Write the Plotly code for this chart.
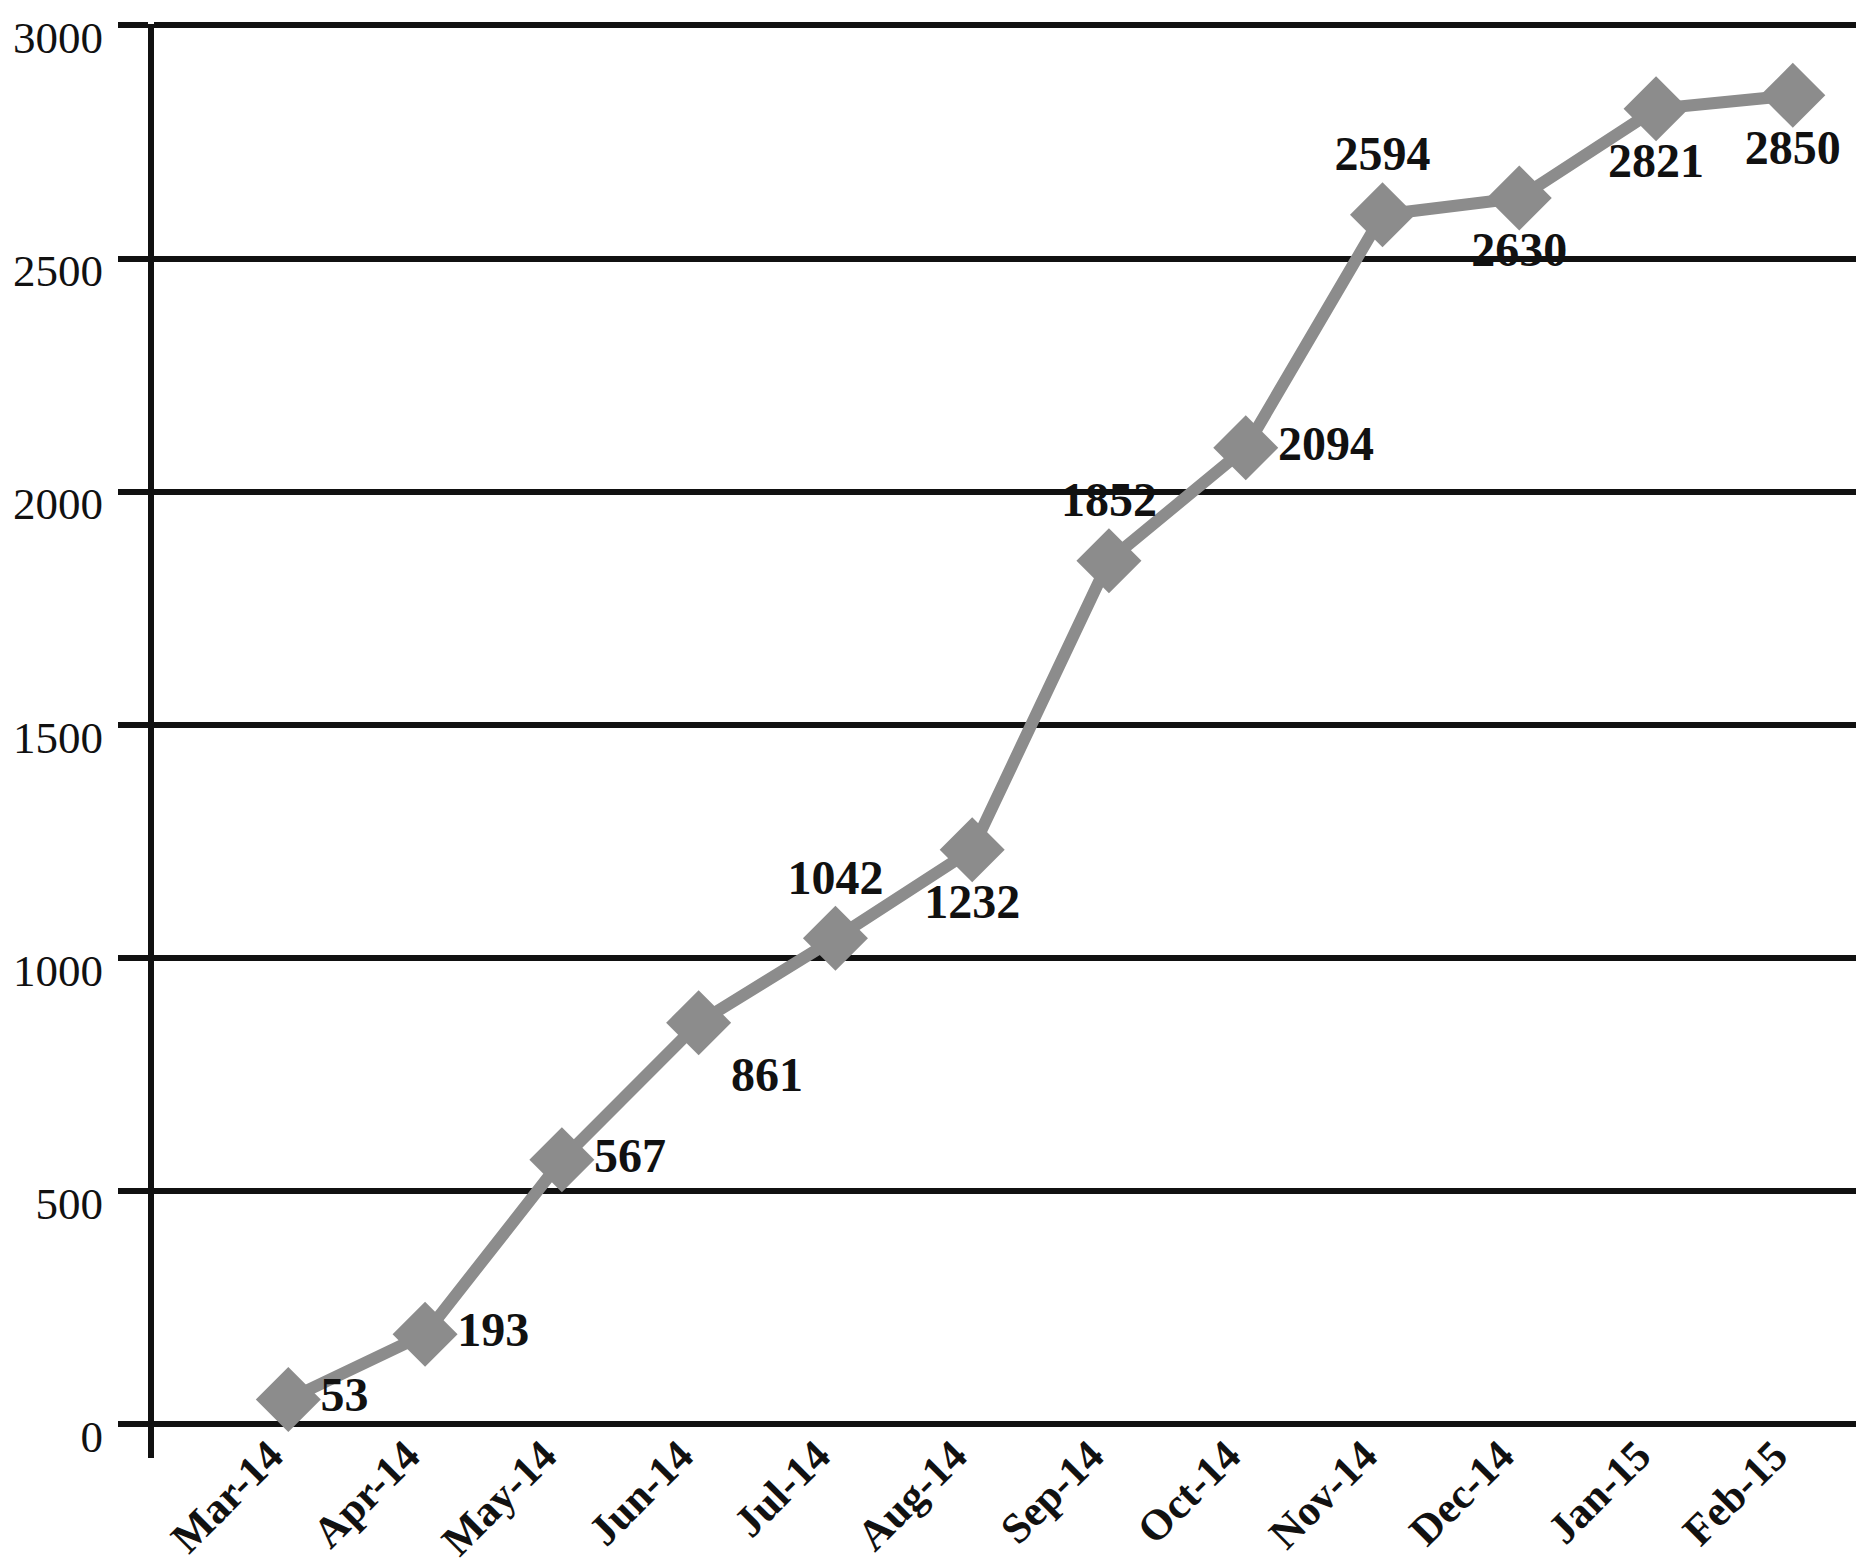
import plotly.graph_objects as go

months = ["Mar-14", "Apr-14", "May-14", "Jun-14", "Jul-14", "Aug-14",
          "Sep-14", "Oct-14", "Nov-14", "Dec-14", "Jan-15", "Feb-15"]
values = [53, 193, 567, 861, 1042, 1232, 1852, 2094, 2594, 2630, 2821, 2850]
label_pos = ["middle right", "middle right", "middle right", "bottom right",
             "top center", "bottom center", "top center", "middle right",
             "top center", "bottom center", "bottom center", "bottom center"]
y_ticks = [0, 500, 1000, 1500, 2000, 2500, 3000]

SERIF = "Liberation Serif"
INK = "#111111"

fig = go.Figure()
fig.add_trace(go.Scatter(
    x=list(range(len(months))),
    y=values,
    mode="lines+markers+text",
    text=[str(v) for v in values],
    textposition=label_pos,
    textfont=dict(family=SERIF, size=48, color=INK, weight="bold"),
    line=dict(color="#8c8c8c", width=12),
    marker=dict(symbol="diamond", size=50, color="#8c8c8c"),
    cliponaxis=False,
    showlegend=False,
))

fig.update_layout(
    width=1864, height=1562,
    margin=dict(l=146, r=6, t=16, b=112),
    paper_bgcolor="white", plot_bgcolor="white",
    font=dict(family=SERIF, color=INK),
)
fig.update_xaxes(
    automargin=False,
    anchor="free", position=0.026,
    range=[-0.982, 11.535],
    tickmode="array",
    tickvals=list(range(len(months))),
    ticktext=months,
    tickangle=-45,
    tickfont=dict(family=SERIF, size=43, color=INK, weight="bold"),
    showgrid=False, zeroline=False, showline=False,
    ticks="", ticklabelshift=-18, ticklabelstandoff=0,
    ticklabeloverflow="allow",
)
fig.update_yaxes(
    automargin=False,
    range=[-72.6, 3003],
    tickmode="array",
    tickvals=y_ticks,
    ticktext=[str(v) for v in y_ticks],
    tickfont=dict(family=SERIF, size=45, color=INK),
    showgrid=True, gridcolor=INK, gridwidth=6,
    zeroline=False,
    showline=True, linecolor=INK, linewidth=6, mirror=True,
    ticks="outside", ticklen=30, tickwidth=6, tickcolor=INK,
    ticklabelstandoff=6, ticklabelshift=12,
    ticklabeloverflow="allow",
)

fig.write_html("out.html")
